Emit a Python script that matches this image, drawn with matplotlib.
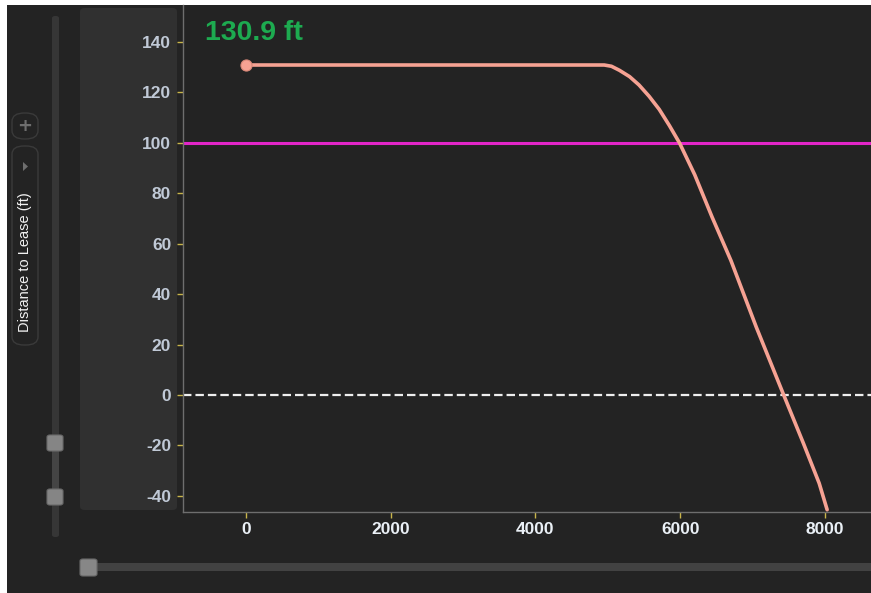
import matplotlib
matplotlib.use("Agg")
import matplotlib.pyplot as plt
from matplotlib.patches import Rectangle, FancyBboxPatch, Polygon

plt.rcParams["axes.unicode_minus"] = False

# ---- data ----
distance_x = [0, 1000, 2000, 3000, 4000, 4950, 5050, 5160, 5300, 5430, 5570,
              5710, 5850, 5990, 6200, 6440, 6700, 7050, 7430, 7700, 7920, 8030]
lease_dist = [130.9, 130.9, 130.9, 130.9, 130.9, 130.9, 130.4, 128.8, 126.3,
              123.0, 118.5, 113.3, 106.9, 100.0, 87.4, 70.6, 53.4, 27.0, 0.0,
              -19.0, -35.0, -45.5]
limit_line = 100
zero_line = 0
x_ticks = [0, 2000, 4000, 6000, 8000]
y_ticks = [-40, -20, 0, 20, 40, 60, 80, 100, 120, 140]
annotation = "130.9 ft"
y_label = "Distance to Lease (ft)"

W, H = 871, 593
BG = "#232323"
fig = plt.figure(figsize=(W / 100, H / 100), dpi=100, facecolor="white")


def fx(x):
    return x / W


def fy(y):
    return 1 - y / H


def frect(x0, y0, x1, y1, **kw):
    return Rectangle((fx(x0), fy(y1)), fx(x1) - fx(x0), fy(y0) - fy(y1),
                     transform=fig.transFigure, **kw)


def fround(x0, y0, x1, y1, r, **kw):
    return FancyBboxPatch((fx(x0), fy(y1)), fx(x1) - fx(x0), fy(y0) - fy(y1),
                          boxstyle=f"round,pad=0,rounding_size={r / W}",
                          transform=fig.transFigure, **kw)


# dark background
fig.patches.append(frect(7, 5, W, H, facecolor=BG, edgecolor="none", zorder=0))
# y axis panel
fig.patches.append(fround(80, 8, 177, 510, 5, facecolor="#303030", edgecolor="none", zorder=1))
# vertical slider track
fig.patches.append(fround(52, 16, 59, 537, 3, facecolor="#363636", edgecolor="none", zorder=1))
fig.patches.append(frect(52, 443, 59, 497, facecolor="#444444", edgecolor="none", zorder=1))
for cy in (443, 497):
    fig.patches.append(fround(47, cy - 8, 63, cy + 8, 3, facecolor="#858585",
                              edgecolor="#6a6a6a", linewidth=0.8, zorder=2))
# horizontal slider
fig.patches.append(frect(90, 563, W, 571, facecolor="#424242", edgecolor="none", zorder=1))
fig.patches.append(fround(80, 559, 97, 576, 3, facecolor="#878787",
                          edgecolor="#6a6a6a", linewidth=0.8, zorder=2))
# plus button
fig.patches.append(fround(12, 113, 38, 139, 12.5, facecolor=BG, edgecolor="#3a3a3a",
                          linewidth=1.0, zorder=2))
fig.text(fx(25), fy(126), "+", color="#6e6e6e", fontsize=13, fontweight="bold",
         ha="center", va="center", zorder=3)
# label pill
fig.patches.append(fround(12, 146, 38, 345, 12, facecolor=BG, edgecolor="#3a3a3a",
                          linewidth=1.0, zorder=2))
fig.patches.append(Polygon([(fx(23), fy(162)), (fx(23), fy(171)), (fx(28), fy(166.5))],
                           closed=True, transform=fig.transFigure,
                           facecolor="#6e6e6e", edgecolor="none", zorder=3))
fig.text(fx(25.5), fy(262), y_label, rotation=90, color="#f2f2f2", fontsize=10.5,
         family=["Liberation Sans", "DejaVu Sans"], ha="center", va="center", zorder=3)

# ---- main axes ----
ax = fig.add_axes([fx(183), fy(512), fx(W) - fx(183), fy(5) - fy(512)])
ax.set_zorder(5)
ax.set_facecolor(BG)
ax.set_xlim(-870, 8636)
ax.set_ylim(-46.4, 154.7)

ax.axhline(limit_line, color="#e225c8", linewidth=2.2, zorder=2)
ax.axhline(zero_line, color="#eeeeee", linewidth=1.6, dashes=(3.8, 1.8), zorder=2)
ax.plot(distance_x, lease_dist, color="#f6a293", linewidth=2.6, zorder=3,
        solid_capstyle="round", solid_joinstyle="round")
ax.plot(distance_x[:1], lease_dist[:1], "o", color="#f6a293", markersize=8,
        markeredgecolor="#d98878", markeredgewidth=0.8, zorder=4)

ax.text(distance_x[0] - 570, 143.5, annotation, color="#1dab50", fontsize=20.5,
        fontweight="bold", family=["Liberation Sans", "DejaVu Sans"],
        ha="left", va="center", zorder=5)

for s in ("top", "right"):
    ax.spines[s].set_visible(False)
for s in ("left", "bottom"):
    ax.spines[s].set_color("#6e6e6e")
    ax.spines[s].set_linewidth(1.0)

ax.set_xticks(x_ticks)
ax.set_yticks(y_ticks)
ax.tick_params(axis="both", direction="out", length=4.5, width=1, color="#c9b54a")
ax.tick_params(axis="x", pad=3)
ax.tick_params(axis="y", pad=4)
for lab in ax.get_yticklabels():
    lab.set_fontfamily(["Liberation Sans", "DejaVu Sans"])
    lab.set_fontweight("bold")
    lab.set_fontsize(12.5)
    lab.set_color("#c0c9d6")
for lab in ax.get_xticklabels():
    lab.set_fontfamily(["Liberation Sans Narrow", "Liberation Sans", "DejaVu Sans"])
    lab.set_fontweight("bold")
    lab.set_fontsize(12.5)
    lab.set_color("#eaf0f6")

fig.savefig("out.png", dpi=100, facecolor="white")
